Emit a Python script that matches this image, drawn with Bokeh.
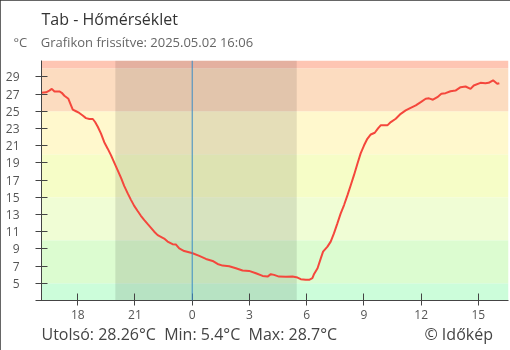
from bokeh.plotting import figure
from bokeh.models import BoxAnnotation, Span, Range1d, FixedTicker, Title
from bokeh.embed import file_html
from bokeh.resources import INLINE

# hours relative to midnight (negative = previous day)
hours = [-7.92, -7.66, -7.49, -7.36, -7.22, -6.96, -6.84, -6.70, -6.49, -6.39, -6.26, -6.09,
         -5.92, -5.74, -5.57, -5.39, -5.21, -5.09, -4.95, -4.78, -4.61, -4.43, -4.26, -4.08,
         -3.91, -3.73, -3.56, -3.38, -3.21, -3.04, -2.86, -2.69, -2.51, -2.34, -2.16, -1.99,
         -1.81, -1.64, -1.47, -1.29, -1.03, -0.85, -0.68, -0.42, -0.07, 0.02, 0.37, 0.72,
         1.07, 1.33, 1.59, 1.94, 2.29, 2.64, 2.98, 3.34, 3.69, 3.95, 4.12, 4.29, 4.55, 4.91,
         5.26, 5.52, 5.69, 5.95, 6.13, 6.30, 6.39, 6.57, 6.74, 6.86, 7.09, 7.26, 7.43, 7.61,
         7.78, 7.96, 8.14, 8.31, 8.48, 8.66, 8.83, 9.01, 9.18, 9.36, 9.57, 9.74, 9.88, 10.23,
         10.41, 10.67, 10.93, 11.19, 11.45, 11.72, 11.98, 12.24, 12.41, 12.62, 12.85, 13.06,
         13.28, 13.54, 13.80, 14.07, 14.33, 14.59, 14.76, 15.11, 15.37, 15.54, 15.77, 15.99, 16.10]
temps = [27.15, 27.2, 27.4, 27.6, 27.3, 27.3, 27.15, 26.8, 26.45, 25.9, 25.2, 25.0,
         24.8, 24.5, 24.2, 24.1, 24.1, 23.75, 23.2, 22.4, 21.4, 20.65, 19.9, 19.0,
         18.15, 17.25, 16.3, 15.45, 14.7, 14.0, 13.4, 12.85, 12.35, 11.9, 11.45, 11.0,
         10.6, 10.4, 10.2, 9.85, 9.55, 9.5, 9.05, 8.75, 8.55, 8.49, 8.18, 7.83,
         7.6, 7.25, 7.06, 6.99, 6.75, 6.48, 6.44, 6.17, 5.86, 5.78, 6.06, 5.98, 5.78, 5.75,
         5.78, 5.67, 5.48, 5.4, 5.4, 5.6, 6.09, 6.75, 7.9, 8.68, 9.26, 9.84, 10.8, 11.97,
         13.1, 14.1, 15.25, 16.4, 17.57, 18.9, 20.1, 21.04, 21.8, 22.3, 22.5, 23.0, 23.36, 23.36,
         23.74, 24.13, 24.7, 25.1, 25.4, 25.68, 26.06, 26.45, 26.5, 26.34, 26.64, 27.03,
         27.1, 27.33, 27.4, 27.8, 27.88, 27.6, 27.99, 28.3, 28.26, 28.3, 28.6, 28.19, 28.26]

band_edges = [None, 5, 10, 15, 20, 25, 30, None]
band_colors = ["#ccfdda", "#dcfcd0", "#f0fdd5", "#f6fdc7", "#fff8cd", "#fcdcc0", "#fec5b3"]
night_start, night_end = -4.03, 5.48
x_ticks = [-6, -3, 0, 3, 6, 9, 12, 15]
x_tick_labels = ["18", "21", "0", "3", "6", "9", "12", "15"]
y_ticks = [3, 5, 7, 9, 11, 13, 15, 17, 19, 21, 23, 25, 27, 29]

NB = "\u00a0"
title_text = "Tab - Hőmérséklet"
unit_text = "°C"
subtitle_text = "Grafikon frissítve: 2025.05.02 16:06"
footer_text = f"Utolsó: 28.26°C{NB}{NB}Min: 5.4°C{NB}{NB}Max: 28.7°C"
credit_text = "© Időkép"
FONT = "Open Sans"

p = figure(width=510, height=350, output_backend="svg", toolbar_location=None,
           x_range=Range1d(-7.9, 16.58), y_range=Range1d(3, 30.9),
           min_border_left=41, min_border_right=2, min_border_top=60, min_border_bottom=50)
p.title.visible = False
p.outline_line_color = None
p.grid.visible = False
p.background_fill_color = "white"
p.styles = {"outline": "1px solid #333", "outline-offset": "-1px",
            "width": "510px", "height": "350px", "overflow": "hidden",
            "position": "fixed", "left": "0px", "top": "0px"}

for i, c in enumerate(band_colors):
    p.add_layout(BoxAnnotation(bottom=band_edges[i], top=band_edges[i + 1],
                               fill_color=c, fill_alpha=1, line_color=None, level="underlay"))
p.add_layout(BoxAnnotation(left=night_start, right=night_end, fill_color="black",
                           fill_alpha=0.1, line_color=None, level="underlay"))
p.add_layout(Span(location=0, dimension="height", line_color="#3a8dc5", line_width=1))

p.line(hours, temps, line_color="#f4473c", line_width=2)

for ax in (p.xaxis[0], p.yaxis[0]):
    ax.axis_line_color = "#444"
    ax.major_tick_line_color = "#444"
    ax.minor_tick_line_color = None
    ax.major_label_text_color = "#555"
    ax.major_label_text_font = FONT
    ax.major_label_text_font_size = "12px"
    ax.major_tick_in = 6
    ax.major_tick_out = 6

p.xaxis.ticker = FixedTicker(ticks=x_ticks)
p.xaxis.major_label_overrides = {t: l for t, l in zip(x_ticks, x_tick_labels)}
p.xaxis.major_label_standoff = 4
p.xaxis.major_tick_in = 7
p.xaxis.major_tick_out = 5
p.yaxis.ticker = FixedTicker(ticks=y_ticks)
p.yaxis.major_label_overrides = {3: ""}
p.yaxis.major_label_standoff = 16

def title(text, size, color, standoff, side, offset=0):
    p.add_layout(Title(text=text, align="left", offset=offset, text_font=FONT,
                       text_font_size=size, text_color=color, text_font_style="normal",
                       standoff=standoff), side)

# above: innermost first
title(unit_text + NB * 4 + subtitle_text, "13px", "#666", 19, "above", offset=-28)
title(title_text, "16px", "#333", -17, "above")
title(NB, "8px", "#ffffff", 0, "above")
# below
title(footer_text + NB * 21 + credit_text, "16px", "#444", -2, "below")

open("out.html", "w").write(file_html(p, INLINE))
